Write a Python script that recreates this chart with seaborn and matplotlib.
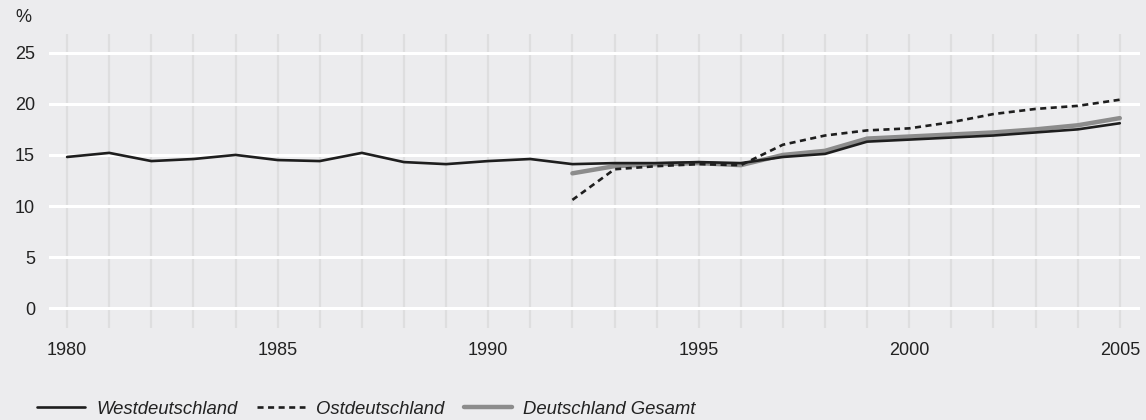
import matplotlib
matplotlib.use("Agg")
import matplotlib.pyplot as plt
import seaborn as sns

# data (percent)
years_west = list(range(1980, 2006))
west = [14.8, 15.2, 14.4, 14.6, 15.0, 14.5, 14.4, 15.2, 14.3, 14.1, 14.4, 14.6, 14.1,
        14.2, 14.2, 14.3, 14.2, 14.8, 15.1, 16.3, 16.5, 16.7, 16.9, 17.2, 17.5, 18.1]
years_east = list(range(1992, 2006))
ost = [10.6, 13.6, 13.9, 14.1, 14.0, 16.0, 16.9, 17.4, 17.6, 18.2, 19.0, 19.5, 19.8, 20.4]
gesamt = [13.2, 13.9, 14.1, 14.2, 14.0, 15.0, 15.4, 16.6, 16.8, 17.0, 17.2, 17.5, 17.9, 18.6]
y_ticks = [0, 5, 10, 15, 20, 25]
x_ticks = [1980, 1985, 1990, 1995, 2000, 2005]

bg = "#ececee"
sns.set_style("white")
plt.rcParams["font.family"] = ["Liberation Sans", "DejaVu Sans"]

fig = plt.figure(figsize=(11.46, 4.2), dpi=100, facecolor=bg)
ax = fig.add_axes([49 / 1146, 1 - 328 / 420, (1140 - 49) / 1146, (328 - 34) / 420])
ax.set_facecolor(bg)

# grid: light grey verticals every year, white horizontals
for yr in years_west:
    ax.axvline(yr, color="#dededf", lw=1.6, zorder=0)
for v in y_ticks:
    ax.axhline(v, color="white", lw=2.2, zorder=0.5)

sns.lineplot(x=years_east, y=gesamt, ax=ax, color="#8c8c8c", lw=3.2,
             label="Deutschland Gesamt", zorder=2)
sns.lineplot(x=years_west, y=west, ax=ax, color="#1e1e1e", lw=1.9,
             label="Westdeutschland", zorder=3)
sns.lineplot(x=years_east, y=ost, ax=ax, color="#1e1e1e", lw=1.9,
             dashes=(2.3, 1.7), label="Ostdeutschland", zorder=4)

ax.set_xlim(1979.57, 2005.48)
ax.set_ylim(-1.93, 26.83)
ax.set_xticks(x_ticks)
ax.set_yticks(y_ticks)
ax.tick_params(length=0, labelsize=13, colors="#222222")
ax.tick_params(axis="y", pad=10)
ax.tick_params(axis="x", pad=10)
ax.set_xlabel("")
ax.set_ylabel("")
for s in ax.spines.values():
    s.set_visible(False)

fig.text(15 / 1146, 1 - 18 / 420, "%", fontsize=13, color="#222222", va="center", ha="left")

# legend in the order of the reference
handles, labels = ax.get_legend_handles_labels()
order = [labels.index(n) for n in ["Westdeutschland", "Ostdeutschland", "Deutschland Gesamt"]]
ax.get_legend().remove()
leg = fig.legend([handles[i] for i in order], [labels[i] for i in order],
                 loc="center left", bbox_to_anchor=(37 / 1146, 1 - 409 / 420),
                 ncol=3, frameon=False, borderpad=0, borderaxespad=0,
                 handlelength=2.6, handletextpad=0.6, columnspacing=1.05,
                 prop={"size": 13.3, "style": "italic"})
for t in leg.get_texts():
    t.set_color("#222222")

fig.savefig("out.png", dpi=100, facecolor=bg)
